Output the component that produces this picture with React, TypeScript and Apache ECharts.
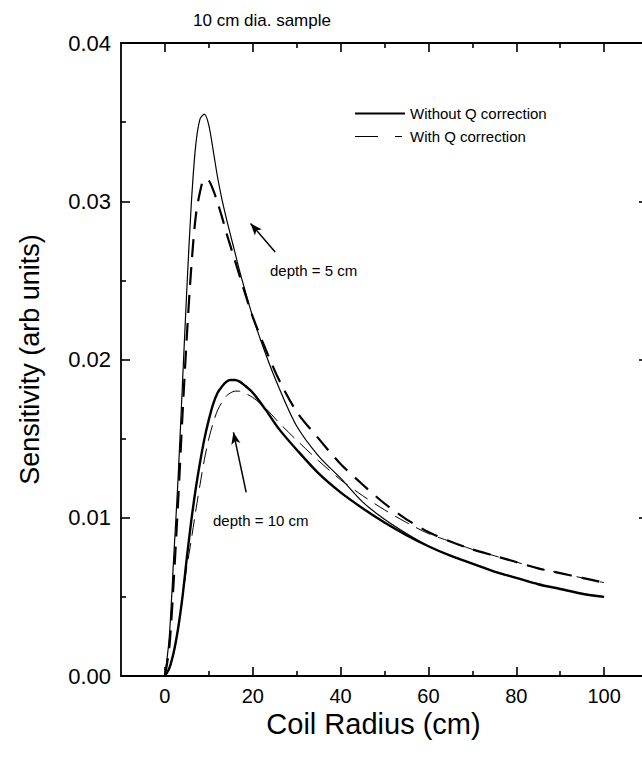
import React, { useEffect, useRef } from "react";
import * as echarts from "echarts";

const radius = [0, 1, 2, 3, 4, 5, 6, 7, 8, 9, 10, 11, 12, 13, 14, 15, 16, 17, 18, 20, 23, 26, 30, 35, 40, 45, 50, 55, 60, 65, 70, 75, 80, 85, 90, 95, 100];
const depth5NoQ = [0, 0.0025, 0.0075, 0.0125, 0.0185, 0.0245, 0.0298, 0.0335, 0.0352, 0.0355, 0.0348, 0.0332, 0.0315, 0.0301, 0.0289, 0.0278, 0.0267, 0.0256, 0.0246, 0.0227, 0.0203, 0.0182, 0.0158, 0.0139, 0.0125, 0.011, 0.0099, 0.009, 0.0082, 0.0076, 0.0071, 0.0066, 0.0062, 0.0058, 0.0055, 0.0052, 0.005];
const depth10NoQ = [0, 0.0005, 0.0015, 0.003, 0.005, 0.0075, 0.0098, 0.0118, 0.0135, 0.015, 0.0162, 0.0172, 0.0179, 0.0183, 0.0186, 0.0187, 0.0187, 0.0186, 0.0184, 0.0179, 0.0168, 0.0156, 0.0143, 0.0128, 0.0116, 0.0106, 0.0097, 0.0089, 0.0082, 0.0076, 0.0071, 0.0066, 0.0062, 0.0058, 0.0055, 0.0052, 0.005];
const depth5Q = [0, 0.0018, 0.006, 0.011, 0.0165, 0.0215, 0.0258, 0.029, 0.0306, 0.0314, 0.0313, 0.0307, 0.0299, 0.029, 0.028, 0.0271, 0.0262, 0.0253, 0.0244, 0.0227, 0.0206, 0.0187, 0.0167, 0.015, 0.0134, 0.0121, 0.0109, 0.0099, 0.0091, 0.0085, 0.008, 0.0076, 0.0072, 0.0068, 0.0065, 0.0062, 0.0059];
const depth10Q = [0, 0.0004, 0.0014, 0.003, 0.005, 0.0069, 0.0086, 0.0104, 0.0121, 0.0137, 0.015, 0.016, 0.0168, 0.0173, 0.0177, 0.0179, 0.018, 0.018, 0.0179, 0.0176, 0.0169, 0.016, 0.0149, 0.0136, 0.0124, 0.0114, 0.0105, 0.0097, 0.009, 0.0085, 0.008, 0.0076, 0.0072, 0.0068, 0.0065, 0.0062, 0.0059];

// axis ranges
const xMin = -10;
const xMax = 110;
const xTickMin = 0;
const xTickMax = 100;
const xTickStep = 20;
const yMin = 0;
const yMax = 0.04;
const yTickStep = 0.01;

const seriesNames = ["Without Q correction", "With Q correction"];
const titleText = "10 cm dia. sample";
const xName = "Coil Radius (cm)";
const yName = "Sensitivity (arb units)";

// arrows: [tailX, tailY, headX, headY]
const arrow5 = [25.1, 0.0268, 19.5, 0.0286];
const arrow10 = [18.5, 0.0116, 15.6, 0.0154];
const label5 = "depth = 5 cm";
const label10 = "depth = 10 cm";

const FONT = "'Liberation Sans', Arial, Helvetica, sans-serif";

const pairs = (ys: number[]) => radius.map((x, i) => [x, ys[i]]);

export default function App() {
  const ref = useRef<HTMLDivElement>(null);
  useEffect(() => {
    if (!ref.current) return;
    const chart = echarts.init(ref.current, undefined, { renderer: "svg" });
    const W = 660;
    const gLeft = 121;
    const gRight = 12;
    const plotW = W - gLeft - gRight;
    const pxPerUnit = plotW / (xMax - xMin);
    const tickLeft = gLeft + (xTickMin - xMin) * pxPerUnit;
    const tickRight = W - (gLeft + (xTickMax - xMin) * pxPerUnit);

    const axisLine = { show: true, onZero: false, lineStyle: { color: "#000", width: 1.8 } };
    const tickStyle = { color: "#000", width: 1.6 };
    const frameX = (pos: string, withName: boolean) => ({
      type: "value",
      gridIndex: 0,
      position: pos,
      min: xMin,
      max: xMax,
      axisLine,
      axisTick: { show: false },
      axisLabel: { show: false },
      splitLine: { show: false },
      name: withName ? xName : undefined,
      nameLocation: "middle",
      nameGap: 33,
      nameTextStyle: { fontSize: 29, color: "#000", fontFamily: FONT, padding: [0, 22, 0, 0] },
    });
    const tickX = (pos: string, labels: boolean) => ({
      type: "value",
      gridIndex: 1,
      position: pos,
      min: xTickMin,
      max: xTickMax,
      interval: xTickStep,
      axisLine: { show: false, onZero: false },
      axisTick: { show: true, inside: true, length: 9, lineStyle: tickStyle },
      minorTick: { show: true, splitNumber: 2, length: 5, lineStyle: tickStyle },
      axisLabel: labels
        ? { show: true, fontSize: 20, color: "#000", fontFamily: FONT, margin: 10 }
        : { show: false },
      splitLine: { show: false },
    });
    const yAx = (pos: string, labels: boolean) => ({
      type: "value",
      gridIndex: 0,
      position: pos,
      min: yMin,
      max: yMax,
      interval: yTickStep,
      axisLine,
      axisTick: { show: true, inside: true, length: 9, lineStyle: tickStyle },
      minorTick: { show: true, splitNumber: 2, length: 5, lineStyle: tickStyle },
      axisLabel: labels
        ? { show: true, fontSize: 22, color: "#000", fontFamily: FONT, margin: 10, formatter: (v: number) => v.toFixed(2) }
        : { show: false },
      splitLine: { show: false },
      name: labels ? yName : undefined,
      nameLocation: "middle",
      nameGap: 78,
      nameRotate: 90,
      nameTextStyle: { fontSize: 27, color: "#000", fontFamily: FONT },
    });
    const arrowLine = (a: number[]) => [
      { coord: [a[0], a[1]], symbol: "none" },
      { coord: [a[2], a[3]], symbol: "arrow" },
    ];
    chart.setOption({
      animation: false,
      backgroundColor: "#fff",
      title: {
        text: titleText,
        left: 188,
        top: 7,
        textStyle: { fontSize: 17, fontWeight: "normal", color: "#000", fontFamily: FONT },
      },
      legend: {
        left: 354,
        top: 106,
        orient: "vertical",
        itemWidth: 50,
        itemHeight: 10,
        itemGap: 8,
        padding: 0,
        textStyle: { fontSize: 15, color: "#000", fontFamily: FONT },
        data: [
          { name: seriesNames[0], itemStyle: { opacity: 0 }, lineStyle: { width: 2, type: "solid", color: "#000" } },
          { name: seriesNames[1], itemStyle: { opacity: 0 }, lineStyle: { width: 1, type: [23, 17, 7, 100], color: "#000" } },
        ],
      },
      grid: [
        { left: gLeft, right: gRight, top: 43, bottom: 83 },
        { left: tickLeft, right: tickRight, top: 43, bottom: 83 },
      ],
      xAxis: [frameX("bottom", true), frameX("top", false), tickX("bottom", true), tickX("top", false)],
      yAxis: [
        yAx("left", true),
        yAx("right", false),
        { type: "value", gridIndex: 1, min: yMin, max: yMax, show: false },
      ],
      graphic: [
        { type: "text", left: 270, top: 263, style: { text: label5, fontSize: 15, fill: "#000", fontFamily: FONT } },
        { type: "text", left: 213, top: 513, style: { text: label10, fontSize: 15, fill: "#000", fontFamily: FONT } },
      ],
      series: [
        {
          name: seriesNames[0],
          type: "line",
          xAxisIndex: 0,
          yAxisIndex: 0,
          data: pairs(depth5NoQ),
          smooth: 0.3,
          symbol: "none",
          itemStyle: { color: "#000" },
          lineStyle: { color: "#000", width: 1.2 },
        },
        {
          name: seriesNames[0],
          type: "line",
          xAxisIndex: 0,
          yAxisIndex: 0,
          data: pairs(depth10NoQ),
          smooth: 0.3,
          symbol: "none",
          itemStyle: { color: "#000" },
          lineStyle: { color: "#000", width: 2.4 },
          markLine: {
            silent: true,
            symbolSize: [7, 12],
            label: { show: false },
            lineStyle: { color: "#000", width: 1.5, type: "solid" },
            data: [arrowLine(arrow5), arrowLine(arrow10)],
          },
        },
        {
          name: seriesNames[1],
          type: "line",
          xAxisIndex: 0,
          yAxisIndex: 0,
          data: pairs(depth5Q),
          smooth: 0.3,
          symbol: "none",
          itemStyle: { color: "#000" },
          lineStyle: { color: "#000", width: 2.2, type: [18, 10] },
        },
        {
          name: seriesNames[1],
          type: "line",
          xAxisIndex: 0,
          yAxisIndex: 0,
          data: pairs(depth10Q),
          smooth: 0.3,
          symbol: "none",
          itemStyle: { color: "#000" },
          lineStyle: { color: "#000", width: 1, type: [16, 8] },
        },
      ],
    });
    return () => chart.dispose();
  }, []);
  return (
    <div style={{ position: "fixed", left: 0, top: 0, width: 642, height: 759, overflow: "hidden", background: "#fff" }}>
      <div ref={ref} style={{ width: 660, height: 759 }} />
    </div>
  );
}
